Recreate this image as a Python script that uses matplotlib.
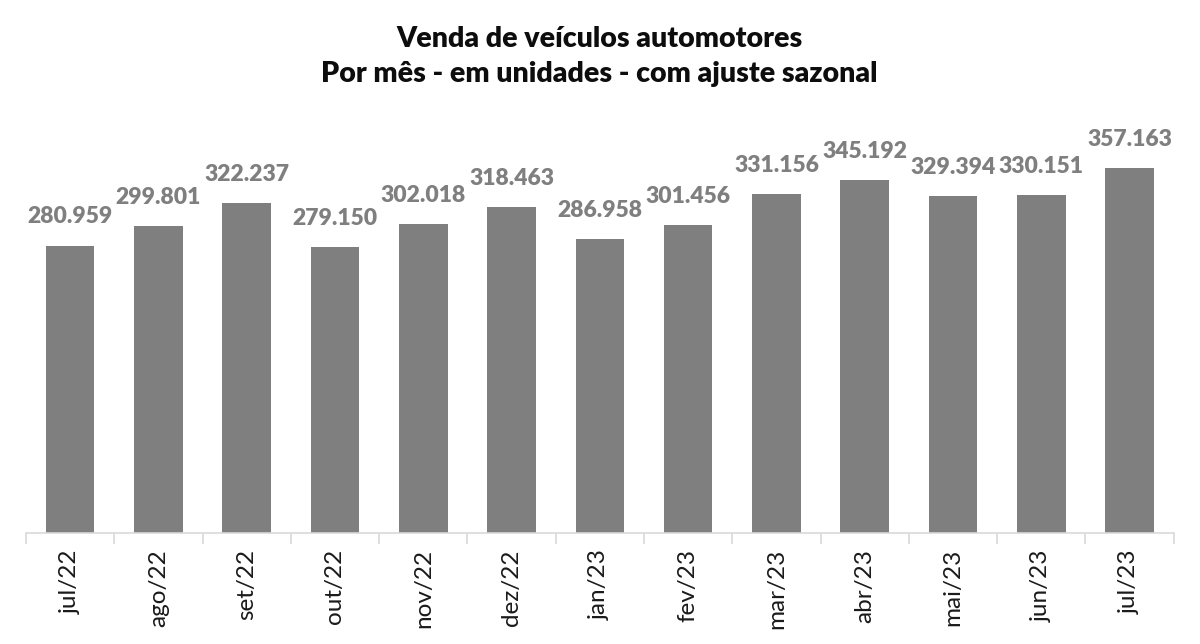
import matplotlib
matplotlib.use("Agg")
import matplotlib.pyplot as plt
import numpy as np

categories = ["jul/22", "ago/22", "set/22", "out/22", "nov/22", "dez/22", "jan/23",
              "fev/23", "mar/23", "abr/23", "mai/23", "jun/23", "jul/23"]
values = [280959, 299801, 322237, 279150, 302018, 318463, 286958,
          301456, 331156, 345192, 329394, 330151, 357163]
value_labels = ["280.959", "299.801", "322.237", "279.150", "302.018", "318.463", "286.958",
                "301.456", "331.156", "345.192", "329.394", "330.151", "357.163"]
title_lines = ["Venda de veículos automotores", "Por mês - em unidades - com ajuste sazonal"]

plt.rcParams['font.family'] = ['Lato', 'DejaVu Sans']

fig = plt.figure(figsize=(12, 6.44), dpi=100)
ax = fig.add_axes([26/1200, 1-532.5/644, (1173.7-26)/1200, (532.5-120)/644])

x = np.arange(len(categories))
ax.bar(x, values, width=0.55, color="#7f7f7f", zorder=2)
ax.set_xlim(-0.5, len(categories)-0.5)
ax.set_ylim(0, 403870)

for xi, v, lab in zip(x, values, value_labels):
    ax.annotate(lab, (xi, v), xytext=(0, 13), textcoords="offset points",
                ha="center", va="bottom", fontsize=16.5, fontweight="heavy", color="#7f7f7f")

for s in ["top", "right", "left"]:
    ax.spines[s].set_visible(False)
ax.spines["bottom"].set_color("#d9d9d9")
ax.spines["bottom"].set_linewidth(1.2)
ax.set_yticks([])
ax.set_xticks(x)
ax.set_xticklabels(categories, rotation=90, fontsize=17.5, color="#1a1a1a")
ax.tick_params(axis="x", which="major", length=0, pad=12)
ax.set_xticks(np.arange(-0.5, len(categories)), minor=True)
ax.tick_params(axis="x", which="minor", length=8, width=1.2, color="#d9d9d9")

fig.text(599/1200, 1-47/644, title_lines[0], ha="center", va="baseline",
         fontsize=20.5, fontweight="heavy", color="#0d0d0d")
fig.text(599/1200, 1-82/644, title_lines[1], ha="center", va="baseline",
         fontsize=20.5, fontweight="heavy", color="#0d0d0d")

fig.savefig("out.png", dpi=100)
